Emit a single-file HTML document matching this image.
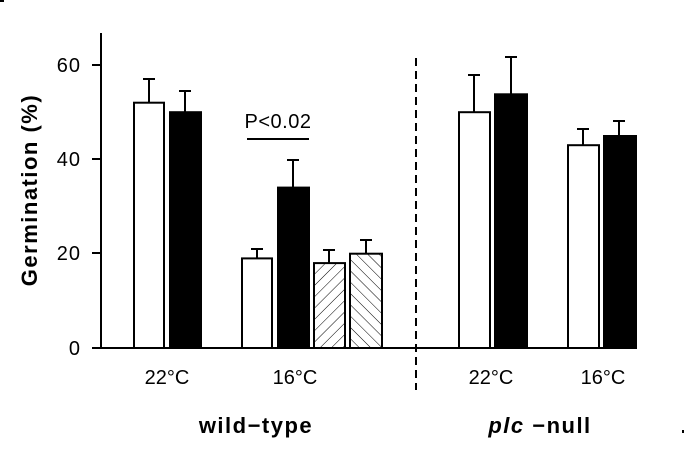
<!DOCTYPE html>
<html><head><meta charset="utf-8"><style>
html,body{margin:0;padding:0;background:#fff;width:685px;height:464px;overflow:hidden}
svg{display:block}
text{font-family:"Liberation Sans",sans-serif;fill:#000}
</style></head><body>
<svg width="685" height="464" viewBox="0 0 685 464" xmlns="http://www.w3.org/2000/svg">
<defs>
<pattern id="h1" patternUnits="userSpaceOnUse" width="8" height="8" patternTransform="rotate(45)">
<line x1="0" y1="0" x2="0" y2="8" stroke="#000" stroke-width="1"/></pattern>
<pattern id="h2" patternUnits="userSpaceOnUse" width="8" height="8" patternTransform="rotate(-45)">
<line x1="0" y1="0" x2="0" y2="8" stroke="#000" stroke-width="1"/></pattern>
</defs>
<rect x="0" y="0" width="4" height="2" fill="#000"/>
<rect x="682" y="430" width="2" height="3" fill="#000"/>
<g stroke="#000" stroke-width="2" fill="none">
<line x1="101" y1="33" x2="101" y2="349"/>
<line x1="100" y1="348" x2="637" y2="348"/>
<line x1="92" y1="65" x2="101" y2="65"/>
<line x1="92" y1="159" x2="101" y2="159"/>
<line x1="92" y1="253" x2="101" y2="253"/>
<line x1="92" y1="348" x2="101" y2="348"/>
<line x1="416" y1="58" x2="416" y2="390" stroke-dasharray="8,5"/>
<line x1="247" y1="139" x2="309" y2="139"/>
</g>
<g font-size="20" text-anchor="end" letter-spacing="1">
<text x="81" y="72">60</text><text x="81" y="166">40</text>
<text x="81" y="260">20</text><text x="81" y="355">0</text>
</g>
<text transform="translate(37,190) rotate(-90)" font-size="22" font-weight="bold" text-anchor="middle" letter-spacing="1.5">Germination  (%)</text>
<text x="278" y="128" font-size="20" text-anchor="middle" letter-spacing="0.5">P&lt;0.02</text>
<g stroke="#000" stroke-width="2">
<rect x="134" y="102.7" width="30" height="245.3" fill="#fff"/>
<line x1="149" y1="102.7" x2="149" y2="79" /><line x1="143" y1="79" x2="155" y2="79"/>
<rect x="170" y="112.2" width="31" height="235.8" fill="#000"/>
<line x1="185" y1="112.2" x2="185" y2="91"/><line x1="179" y1="91" x2="191" y2="91"/>
<rect x="242" y="258.4" width="30" height="89.6" fill="#fff"/>
<line x1="257" y1="258.4" x2="257" y2="249"/><line x1="251" y1="249" x2="263" y2="249"/>
<rect x="278" y="187.6" width="31" height="160.4" fill="#000"/>
<line x1="293" y1="187.6" x2="293" y2="160"/><line x1="287" y1="160" x2="299" y2="160"/>
<rect x="314" y="263.1" width="31" height="84.9" fill="url(#h1)"/>
<line x1="329" y1="263.1" x2="329" y2="250"/><line x1="323" y1="250" x2="335" y2="250"/>
<rect x="350" y="253.7" width="32" height="94.3" fill="url(#h2)"/>
<line x1="366" y1="253.7" x2="366" y2="240"/><line x1="360" y1="240" x2="372" y2="240"/>
<rect x="459" y="112.2" width="31" height="235.8" fill="#fff"/>
<line x1="474" y1="112.2" x2="474" y2="75"/><line x1="468" y1="75" x2="480" y2="75"/>
<rect x="495" y="94.3" width="32" height="253.7" fill="#000"/>
<line x1="511" y1="94.3" x2="511" y2="57"/><line x1="505" y1="57" x2="517" y2="57"/>
<rect x="568" y="145.2" width="31" height="202.8" fill="#fff"/>
<line x1="583" y1="145.2" x2="583" y2="129"/><line x1="577" y1="129" x2="589" y2="129"/>
<rect x="604" y="136" width="32" height="212" fill="#000"/>
<line x1="619" y1="136" x2="619" y2="121"/><line x1="613" y1="121" x2="625" y2="121"/>
</g>
<g font-size="20" text-anchor="middle">
<text x="167" y="384">22°C</text><text x="295" y="384">16°C</text>
<text x="491" y="384">22°C</text><text x="603" y="384">16°C</text>
</g>
<g font-size="22" font-weight="bold" text-anchor="middle" letter-spacing="1.5">
<text x="256" y="433">wild−type</text>
<text x="540" y="433"><tspan font-style="italic">plc</tspan> −null</text>
</g>
</svg>
</body></html>
